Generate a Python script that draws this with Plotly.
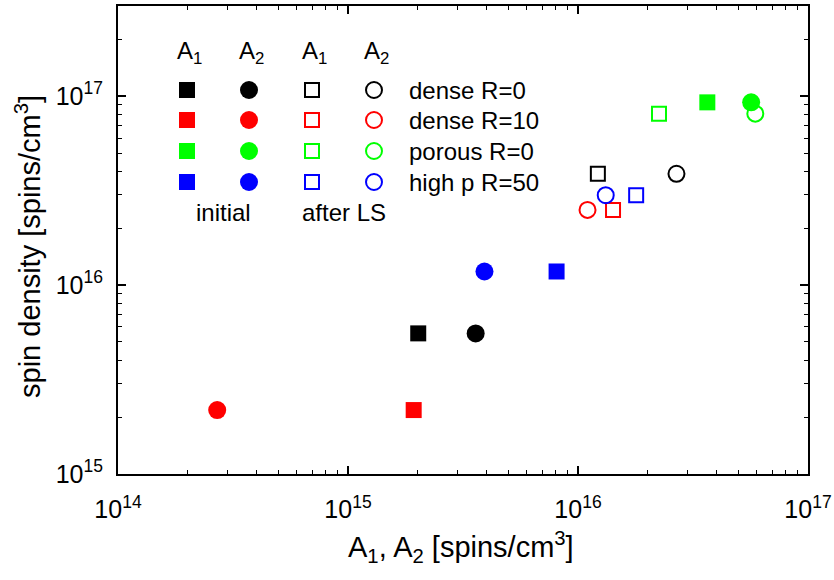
import plotly.graph_objects as go

# ---------------- data ----------------
groups = ["dense R=0", "dense R=10", "porous R=0", "high p R=50"]
colors = ["#000000", "#FF0000", "#00FF00", "#0000FF"]

initial_A1 = [2.02e15, 1.93e15, 3.65e16, 8.07e15]
initial_A2 = [3.59e15, 2.70e14, 5.66e16, 3.92e15]
initial_spin = [5.55e15, 2.18e15, 9.27e16, 1.18e16]

afterLS_A1 = [1.22e16, 1.42e16, 2.25e16, 1.79e16]
afterLS_A2 = [2.68e16, 1.10e16, 5.90e16, 1.32e16]
afterLS_spin = [3.88e16, 2.50e16, 8.08e16, 2.99e16]

x_exponents = [14, 15, 16, 17]
y_exponents = [15, 16, 17]

# ---------------- styling / layout constants ----------------
FONT = "Liberation Sans, Arial, Helvetica, sans-serif"
W, H = 834, 580
L, R, T, B = 118, 26, 6, 106
PW, PH = W - L - R, H - T - B
TICK_SIZE = 25
TITLE_SIZE = 29
KEY_SIZE = 24


def pow_label(e):
    return "10<sup>%d</sup>" % e


x_tickvals = [10.0 ** e for e in x_exponents]
x_ticktext = [pow_label(e) for e in x_exponents]
y_tickvals = [10.0 ** e for e in y_exponents]
y_ticktext = [pow_label(e) for e in y_exponents]

x_minor = [m * 10.0 ** e for e in range(14, 17) for m in range(2, 10)]
y_minor = [m * 10.0 ** e for e in range(15, 18) for m in range(2, 10) if m * 10.0 ** e <= 3e17]

SQ_FILLED = 16
CI_FILLED = 18
SQ_OPEN = 14
CI_OPEN = 16
OPEN_LW = 2

fig = go.Figure()

for i, g in enumerate(groups):
    c = colors[i]
    fig.add_trace(go.Scatter(x=[initial_A1[i]], y=[initial_spin[i]], mode="markers",
                             marker=dict(symbol="square", size=SQ_FILLED, color=c, line=dict(width=0)),
                             showlegend=False, hoverinfo="skip"))
    fig.add_trace(go.Scatter(x=[initial_A2[i]], y=[initial_spin[i]], mode="markers",
                             marker=dict(symbol="circle", size=CI_FILLED, color=c, line=dict(width=0)),
                             showlegend=False, hoverinfo="skip"))
    fig.add_trace(go.Scatter(x=[afterLS_A1[i]], y=[afterLS_spin[i]], mode="markers",
                             marker=dict(symbol="square-open", size=SQ_OPEN, color=c,
                                         line=dict(width=OPEN_LW, color=c)),
                             showlegend=False, hoverinfo="skip"))
    fig.add_trace(go.Scatter(x=[afterLS_A2[i]], y=[afterLS_spin[i]], mode="markers",
                             marker=dict(symbol="circle-open", size=CI_OPEN, color=c,
                                         line=dict(width=OPEN_LW, color=c)),
                             showlegend=False, hoverinfo="skip"))

# ---------------- in-plot key (pixel-space overlay axes) ----------------
key_cols = [187, 249, 312, 374]
key_rows = [90, 120, 151, 182]
key_text_x = 407
key_symbols = [("square", SQ_FILLED, False), ("circle", CI_FILLED, False),
               ("square-open", SQ_OPEN, True), ("circle-open", CI_OPEN, True)]

for r, g in enumerate(groups):
    c = colors[r]
    for k, (sym, sz, is_open) in enumerate(key_symbols):
        mk = dict(symbol=sym, size=sz, color=c)
        mk["line"] = dict(width=OPEN_LW, color=c) if is_open else dict(width=0)
        fig.add_trace(go.Scatter(x=[key_cols[k]], y=[key_rows[r]], xaxis="x2", yaxis="y2",
                                 mode="markers", marker=mk, showlegend=False, hoverinfo="skip"))
    fig.add_annotation(x=key_text_x, y=key_rows[r], xref="x2", yref="y2", text=g,
                       showarrow=False, xanchor="left", yanchor="middle",
                       font=dict(family=FONT, size=KEY_SIZE, color="black"))

headers = ["A<sub>1</sub>", "A<sub>2</sub>", "A<sub>1</sub>", "A<sub>2</sub>"]
for k, h in enumerate(headers):
    fig.add_annotation(x=key_cols[k] + 2, y=52, xref="x2", yref="y2", text=h,
                       showarrow=False, xanchor="center", yanchor="middle",
                       font=dict(family=FONT, size=KEY_SIZE, color="black"))
fig.add_annotation(x=(key_cols[0] + key_cols[1]) / 2 + 5, y=212, xref="x2", yref="y2", text="initial",
                   showarrow=False, xanchor="center", yanchor="middle",
                   font=dict(family=FONT, size=KEY_SIZE, color="black"))
fig.add_annotation(x=(key_cols[2] + key_cols[3]) / 2 + 1, y=212, xref="x2", yref="y2", text="after LS",
                   showarrow=False, xanchor="center", yanchor="middle",
                   font=dict(family=FONT, size=KEY_SIZE, color="black"))

# ---------------- axis titles ----------------
fig.add_annotation(x=(461 - L) / PW, y=(H - B - 547) / PH, xref="paper", yref="paper",
                   text="A<sub>1</sub>, A<sub>2</sub> [spins/cm<sup>3</sup>]",
                   showarrow=False, xanchor="center", yanchor="middle",
                   font=dict(family=FONT, size=TITLE_SIZE, color="black"))
fig.add_annotation(x=(28 - L) / PW, y=(H - B - 247) / PH, xref="paper", yref="paper",
                   text="spin density [spins/cm<sup>3</sup>]", textangle=-90,
                   showarrow=False, xanchor="center", yanchor="middle",
                   font=dict(family=FONT, size=TITLE_SIZE, color="black"))

axis_common = dict(
    type="log", showline=True, linewidth=2, linecolor="black", mirror="ticks",
    ticks="inside", ticklen=8, tickwidth=1.5, tickcolor="black",
    showgrid=False, zeroline=False, automargin=False, ticklabeloverflow="allow",
    tickfont=dict(family=FONT, size=TICK_SIZE, color="black"),
)

fig.update_layout(
    width=W, height=H,
    margin=dict(l=L, r=R, t=T, b=B),
    paper_bgcolor="white", plot_bgcolor="white",
    font=dict(family=FONT, size=24, color="black"),
    showlegend=False,
    xaxis=dict(axis_common, range=[14, 17], tickmode="array", tickvals=x_tickvals, ticktext=x_ticktext,
               ticklabelstandoff=12,
               minor=dict(ticks="inside", ticklen=4, tickwidth=1.2, tickcolor="black",
                          tickmode="array", tickvals=x_minor, showgrid=False)),
    yaxis=dict(axis_common, range=[15, 17.4771], tickmode="array", tickvals=y_tickvals, ticktext=y_ticktext,
               ticklabelstandoff=8,
               minor=dict(ticks="inside", ticklen=4, tickwidth=1.2, tickcolor="black",
                          tickmode="array", tickvals=y_minor, showgrid=False)),
    xaxis2=dict(overlaying="x", range=[L, W - R], visible=False, fixedrange=True, automargin=False),
    yaxis2=dict(overlaying="y", range=[H - B, T], visible=False, fixedrange=True, anchor="x2",
                automargin=False),
)

fig.write_html(
    "out.html",
    config={"displayModeBar": False},
    post_script="document.body.style.margin='0';document.body.style.padding='0';"
                "document.documentElement.style.overflow='hidden';",
)
